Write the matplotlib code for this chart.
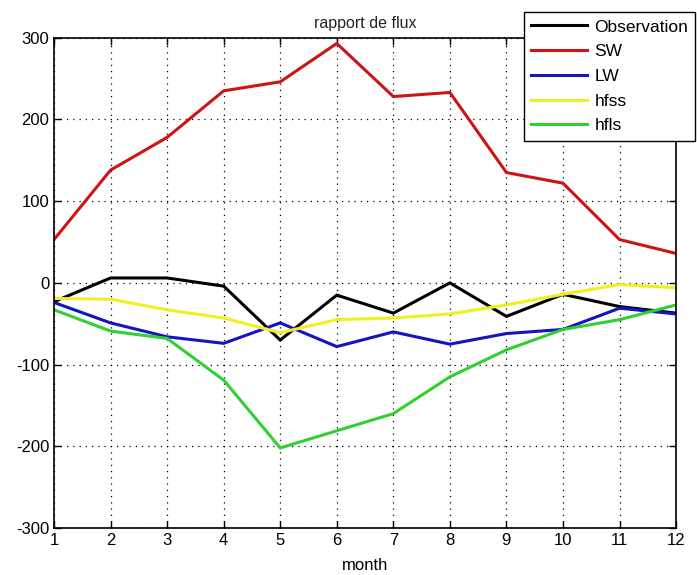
import matplotlib
matplotlib.use("Agg")
import matplotlib.pyplot as plt
import numpy as np

plt.rcParams['font.family'] = ['Liberation Sans', 'DejaVu Sans']
plt.rcParams['axes.unicode_minus'] = False

months = list(range(1, 13))
observation = [-23, 6, 6, -4, -70, -15, -37, 0, -41, -14, -29, -37]
sw = [53, 138, 178, 235, 246, 293, 228, 233, 135, 122, 53, 36]
lw = [-24, -49, -66, -74, -49, -78, -60, -75, -62, -57, -31, -38]
hfss = [-19, -20, -33, -43, -61, -45, -43, -38, -27, -14, -2, -6]
hfls = [-33, -59, -68, -119, -202, -181, -160, -115, -82, -57, -45, -27]

series_names = ["Observation", "SW", "LW", "hfss", "hfls"]
xticks = list(range(1, 13))
yticks = [-300, -200, -100, 0, 100, 200, 300]

fig = plt.figure(figsize=(6.97, 5.75), dpi=100)
ax = fig.add_axes([0.0775, 0.0817, 0.8925, 0.8527])

colors = ["#000000", "#cc1414", "#1414c0", "#f0f020", "#30d030"]
data = [observation, sw, lw, hfss, hfls]
for name, vals, c in zip(series_names, data, colors):
    ax.plot(months, vals, color=c, lw=2.2, label=name, solid_joinstyle='miter')

ax.set_xlim(1, 12)
ax.set_ylim(-300, 300)
ax.set_xticks(xticks)
ax.set_yticks(yticks)
ax.tick_params(direction='in', top=True, right=True, labelsize=12, length=5, width=1)
ax.grid(True, linestyle=(0, (1, 4)), color='black', linewidth=0.9)
for s in ax.spines.values():
    s.set_linewidth(1.2)
ax.set_title("rapport de flux", fontsize=11.5, pad=7, color='#222222')
ax.set_xlabel("month", fontsize=12, labelpad=7)

leg = fig.legend(loc='upper left', bbox_to_anchor=(0.752, 0.979), fontsize=12.5,
                 frameon=True, fancybox=False, edgecolor='black', framealpha=1,
                 handlelength=3.2, labelspacing=0.55, borderpad=0.42, handletextpad=0.42,
                 borderaxespad=0)
leg.get_frame().set_linewidth(1.0)

fig.savefig("out.png", dpi=100)
